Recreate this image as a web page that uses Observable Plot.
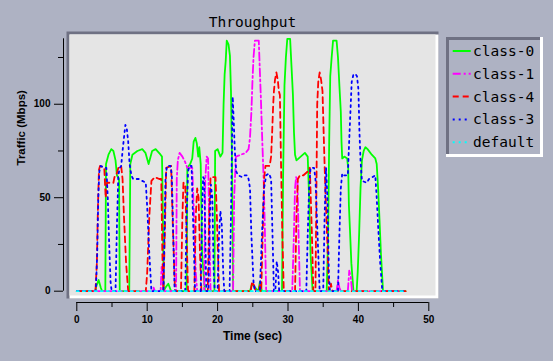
<!DOCTYPE html>
<html><head><meta charset="utf-8">
<script src="https://cdn.jsdelivr.net/npm/d3@7"></script>
<script src="https://cdn.jsdelivr.net/npm/@observablehq/plot@0.6"></script>
<style>
html,body{margin:0;padding:0;background:#aeb2c3;}
#chart{position:relative;width:553px;height:361px;overflow:hidden;}
</style></head><body><div id="chart"></div>
<script>
// ---------- data (time in sec, traffic in Mbps) ----------
const seriesNames = ["class-0", "class-1", "class-4", "class-3", "default"];

const class0 = [[0,0],[2.6,0],[2.8,3],[3.1,6],[3.4,2],[3.6,0],[4.05,0],[4.15,68],[4.5,73],[4.9,76],[5.2,75],[5.5,70],[5.7,62],[6.0,60],[6.1,0],
 [7.45,0],[7.6,68],[7.9,73],[8.6,75],[9.3,76],[9.75,74],[10.2,68],[10.7,75],[11.2,76],[11.9,73],[12.1,72],[12.2,48],[12.35,0],[12.6,2],[13.0,4],[13.4,0],
 [15.6,0],[15.7,66],[16.1,68],[16.4,71],[16.6,80],[16.85,82],[17.05,79],[17.25,72],[17.4,77],[17.6,68],[17.8,20],[18.2,0],
 [19.55,0],[19.65,75],[20.0,76],[20.4,72],[20.7,74],[20.85,100],[21.0,116],[21.15,123],[21.3,134],[21.55,132],[21.75,126],[21.9,107],[22.05,68],[22.2,0],
 [24.6,0],[24.9,4],[25.3,2],[25.8,0],[26.0,5],[26.3,0],
 [29.15,0],[29.3,60],[29.5,110],[29.7,125],[29.9,135],[30.3,135],[30.5,120],[30.7,105],[30.85,85],[31.0,73],[31.2,70],[31.8,72],[32.4,74],[32.8,72],[33.0,50],[33.2,20],[33.5,0],
 [35.5,0],[35.7,30],[35.85,80],[36.0,115],[36.2,125],[36.4,134],[36.9,134],[37.1,125],[37.3,110],[37.5,96],[37.6,80],[37.7,71],[38.0,72],[38.4,71],[38.55,66],[38.65,46],[38.8,33],[39.0,15],[39.3,0],
 [39.75,0],[39.9,10],[40.1,30],[40.3,55],[40.5,70],[40.75,75],[41.0,77],[41.3,76],[41.9,73],[42.4,71],[42.6,68],[42.8,55],[43.0,38],[43.2,20],[43.5,0],[46.7,0]];

const class1 = [[0,0],[10.8,0],[10.9,2],[11.1,0],[11.9,0],[12.05,13],[12.2,8],[12.35,0],
 [14.1,0],[14.2,60],[14.35,70],[14.6,74],[15.0,72],[15.4,69],[15.7,66],[16.4,66],[16.6,45],[16.9,10],[17.1,0],
 [18.1,0],[18.25,60],[18.45,72],[18.65,71],[18.8,40],[19.0,0],
 [22.2,0],[22.35,50],[22.6,72],[23.3,73],[24.0,74],[24.4,76],[24.6,82],[24.8,96],[24.95,112],[25.1,125],[25.3,134],[25.85,134],[26.0,118],[26.15,103],[26.35,80],[26.55,59],[26.7,35],[26.9,0],
 [30.6,0],[30.8,25],[31.0,55],[31.15,61],[31.35,59],[31.5,30],[31.7,0],
 [36.9,0],[37.1,6],[37.3,2],[37.5,0],[38.5,0],[38.7,11],[38.9,8],[39.1,0],[46.7,0]];

const class4 = [[0,0],[2.65,0],[2.85,15],[3.0,45],[3.15,65],[3.3,67],[3.9,66],[4.1,50],[4.3,58],[5.2,58],[5.35,61],[5.6,62],[5.9,66],[6.3,67],[6.5,60],[6.7,40],[7.0,15],[7.3,0],
 [9.8,0],[10.0,10],[10.3,40],[10.6,59],[11.1,61],[11.7,60],[12.0,60],[12.15,20],[12.3,0],[12.5,30],[12.7,66],[13.4,67],[13.6,40],[13.95,0],
 [14.8,0],[15.0,40],[15.15,58],[15.4,57],[15.6,30],[15.8,0],
 [16.7,0],[16.9,40],[17.1,55],[17.3,50],[17.5,20],[17.7,0],
 [18.6,0],[18.8,40],[19.0,61],[19.7,61],[19.9,40],[20.2,0],
 [24.7,0],[24.9,5],[25.2,3],[25.4,0],[25.9,0],[26.0,4],[26.1,0],
 [26.2,0],[26.4,30],[26.6,60],[26.8,67],[27.4,67],[27.6,72],[27.75,85],[27.9,100],[28.0,107],[28.15,113],[28.35,117],[28.55,113],[28.7,107],[28.85,105],[29.0,70],[29.2,30],[29.4,0],
 [31.0,0],[31.2,40],[31.4,60],[31.7,62],[32.2,62],[32.8,64],[33.1,66],[33.4,30],[33.6,0],
 [33.9,0],[34.05,60],[34.15,100],[34.3,112],[34.5,117],[34.7,113],[34.9,107],[35.1,80],[35.3,55],[35.6,25],[35.8,0],
 [36.0,0],[36.1,4],[36.3,0],[46.7,0]];

const class3 = [[0,0],[2.7,0],[2.9,20],[3.05,50],[3.2,64],[3.4,67],[3.9,66],[4.2,66],[4.4,50],[4.6,25],[4.8,5],[4.95,0],
 [5.5,0],[5.7,35],[5.9,62],[6.1,66],[6.3,67],[6.5,75],[6.7,82],[6.9,89],[7.1,87],[7.3,80],[7.5,68],[7.75,62],[8.0,60],[8.8,60],[9.3,59],[9.8,58],[10.0,45],[10.3,20],[10.6,0],
 [12.3,0],[12.45,30],[12.6,60],[12.8,67],[13.3,67],[13.5,62],[13.7,30],[13.9,0],
 [15.4,0],[15.6,40],[15.8,64],[16.0,67],[16.3,67],[16.5,40],[16.8,0],
 [17.6,0],[17.8,45],[17.95,61],[18.1,60],[18.3,20],[18.4,0],
 [18.7,0],[18.9,40],[19.05,57],[19.25,50],[19.45,10],[19.6,0],
 [20.0,0],[20.2,30],[20.4,43],[20.6,35],[20.8,10],[20.95,0],
 [21.7,0],[21.9,40],[22.05,80],[22.15,104],[22.3,90],[22.45,75],[22.65,64],[22.9,62],[23.5,61],[23.8,62],[24.2,62],[24.4,60],[24.6,55],[24.8,30],[25.1,5],[25.3,0],
 [26.0,0],[26.3,30],[26.6,55],[26.9,62],[27.3,63],[27.6,60],[27.8,30],[28.0,0],
 [28.2,0],[28.4,16],[28.6,10],[28.75,0],
 [32.6,0],[32.8,30],[33.0,55],[33.2,66],[33.7,66],[33.9,60],[34.2,30],[34.5,0],
 [35.0,0],[35.2,40],[35.4,66],[35.6,50],[35.8,10],[35.95,0],
 [37.1,0],[37.3,30],[37.5,55],[37.7,63],[37.9,62],[38.5,62],[38.6,72],[38.8,90],[39.05,112],[39.3,116],[39.6,116],[39.8,115],[40.0,108],[40.15,85],[40.3,70],[40.5,59],[41.2,58],[41.5,60],[42.0,61],[42.4,62],[42.6,50],[42.8,35],[43.1,15],[43.4,0],[46.7,0]];

const classDefault = [[0,0],[46.7,0]];

const xTicks = [0, 10, 20, 30, 40, 50];
const xMinorTicks = [5, 15, 25, 35, 45];
const yTicks = [0, 50, 100];
const yMinorTicks = [25, 75, 125];
const xEnd = 50;
const yTop = 135;

// ---------- styles / layout ----------
const seriesData = [class0, class1, class4, class3, classDefault];
const strokes = ["#00ff00", "#ff00ff", "#ff0000", "#0000ff", "#00ffff"];
const dashes = [null, "8,3,2,3", "6,4", "2,4", "2,4"];

const W = 553, H = 361;
const axisXpx = 63, axisYpx = 302;     // axis line positions
const originX = 76.3, originY = 290.7;  // pixel of t=0 / v=0
const endXpx = 428.3, topYpx = 38.3;    // pixel of t=50 / v=135
const pxPerX = (endXpx - originX) / xEnd;
const pxPerY = (originY - topYpx) / yTop;
const xLo = -(originX - axisXpx) / pxPerX;
const yLo = -(axisYpx - originY) / pxPerY;

const rows = seriesData.map((pts, i) => pts.map(([t, v]) => ({series: seriesNames[i], t, v})));

const lineMarks = rows.map((r, i) => Plot.line(r, {
  x: "t", y: "v", stroke: strokes[i], strokeWidth: 1.8,
  strokeDasharray: dashes[i] ?? undefined, curve: "linear"
}));

const mR = W - endXpx, mB = H - axisYpx;
const plot = Plot.plot({
  width: W, height: H,
  marginLeft: axisXpx, marginRight: mR, marginTop: topYpx, marginBottom: mB,
  x: {domain: [xLo, xEnd]},
  y: {domain: [yLo, yTop]},
  style: {background: "transparent", fontFamily: "Liberation Sans, Arial, sans-serif", fontSize: "10px", fontWeight: "bold", color: "#000", overflow: "visible"},
  marks: [
    // 3D panel
    Plot.frame({fill: "#6f7183", stroke: "none", insetLeft: 66 - axisXpx, insetRight: endXpx - 438, insetTop: 31 - topYpx, insetBottom: axisYpx - 298}),
    Plot.frame({fill: "#ffffff", stroke: "none", insetLeft: 69 - axisXpx, insetRight: endXpx - 438, insetTop: 34 - topYpx, insetBottom: axisYpx - 298}),
    Plot.frame({fill: "#e5e5e5", stroke: "none", insetLeft: 69 - axisXpx, insetRight: endXpx - 435, insetTop: 34 - topYpx, insetBottom: axisYpx - 295}),
    ...lineMarks,
    // axes
    Plot.ruleX([xLo], {y1: 0, y2: yTop, stroke: "#000", strokeWidth: 1}),
    Plot.ruleY([yLo], {x1: 0, x2: xEnd, stroke: "#000", strokeWidth: 1}),
    Plot.axisY({ticks: yTicks, tickSize: 9, tickPadding: 4, label: null, anchor: "left", fontWeight: "bold", fontSize: 10}),
    Plot.axisY({ticks: yMinorTicks, tickSize: 5, tickFormat: () => "", label: null, anchor: "left"}),
    Plot.axisX({ticks: xTicks, tickSize: 9, tickPadding: 4, label: null, anchor: "bottom", fontWeight: "bold", fontSize: 10}),
    Plot.axisX({ticks: xMinorTicks, tickSize: 5, tickFormat: () => "", label: null, anchor: "bottom"}),
    // texts
    Plot.text(["Throughput"], {text: d => d, frameAnchor: "top", dx: 252 - (axisXpx + endXpx) / 2, dy: 16 - topYpx, fontFamily: "DejaVu Sans Mono, monospace", fontSize: 14.5, fontWeight: "normal", fill: "#000"}),
    Plot.text(["Time (sec)"], {text: d => d, frameAnchor: "bottom", dx: 252 - (axisXpx + endXpx) / 2, dy: 339 - axisYpx, fontSize: 12, fontWeight: "bold", fill: "#000"}),
    Plot.text(["Traffic (Mbps)"], {text: d => d, frameAnchor: "left", rotate: -90, dx: 21 - axisXpx, dy: 165 - (topYpx + axisYpx) / 2, fontSize: 11.5, fontWeight: "bold", fill: "#000"})
  ]
});

// ---------- legend ----------
const svg = d3.select(plot);
const lg = svg.append("g").attr("text-anchor", "start");
const box = {x0: 446, y0: 37, x1: 543, y1: 157};
lg.append("rect").attr("x", box.x0).attr("y", box.y0).attr("width", box.x1 - box.x0).attr("height", box.y1 - box.y0).attr("fill", "#ffffff");
lg.append("rect").attr("x", box.x0).attr("y", box.y0).attr("width", box.x1 - box.x0 - 3).attr("height", box.y1 - box.y0 - 3).attr("fill", "#6f7183");
lg.append("rect").attr("x", box.x0 + 3).attr("y", box.y0 + 3).attr("width", box.x1 - box.x0 - 6).attr("height", box.y1 - box.y0 - 6).attr("fill", "#aeb2c3");
seriesNames.forEach((name, i) => {
  const cy = 51 + i * 22.8;
  const ln = lg.append("line").attr("x1", 452.7).attr("x2", 470.7).attr("y1", cy).attr("y2", cy)
    .attr("stroke", strokes[i]).attr("stroke-width", 2);
  if (dashes[i]) ln.attr("stroke-dasharray", dashes[i]);
  lg.append("text").attr("x", 473).attr("y", cy).attr("dy", "0.35em").attr("text-anchor", "start")
    .attr("font-family", "DejaVu Sans Mono, monospace").attr("font-size", 14.5).attr("font-weight", "normal")
    .attr("fill", "#000").text(name);
});

document.getElementById("chart").appendChild(plot);
</script>
</body></html>
